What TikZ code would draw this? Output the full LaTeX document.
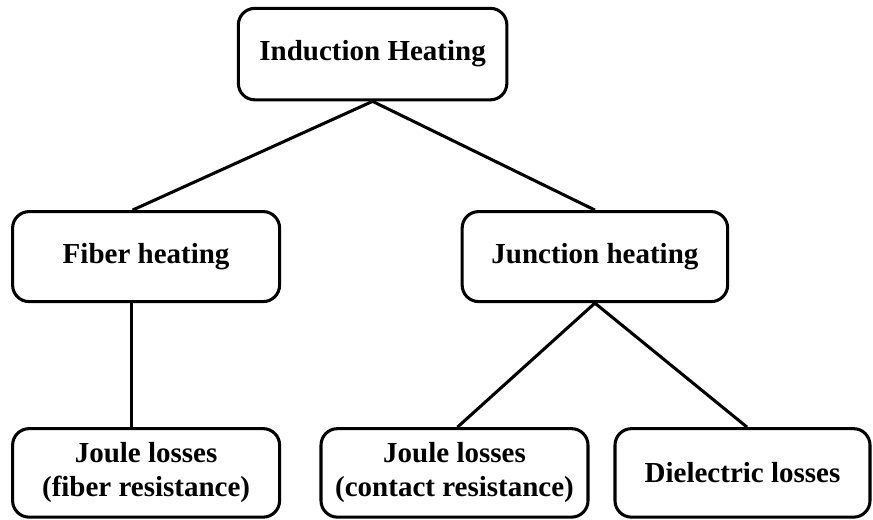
\documentclass[tikz,border=0pt]{standalone}
\usepackage{fontspec}
\setmainfont{Liberation Serif}
\usepackage{tikz}
\usetikzlibrary{positioning}

\begin{document}
\begin{tikzpicture}[
  box/.style={draw, line width=2.9pt, rounded corners=0.55cm, fill=white,
    align=center, inner sep=0pt, font=\fontsize{27.5}{32}\selectfont\bfseries},
  link/.style={line width=2.9pt}
]

% Canvas
\useasboundingbox (0,0) rectangle (29.1,17.333);

% Root
\node[box, minimum width=8.95cm, minimum height=3.05cm] (root) at (12.42,15.53) {Induction Heating};

% Heating types
\node[box, minimum width=8.9cm, minimum height=3.0cm] (fiber) at (4.87,8.78) {Fiber heating};
\node[box, minimum width=8.85cm, minimum height=3.0cm] (junction) at (19.83,8.78) {Junction heating};

% Loss mechanisms
\node[box, minimum width=8.9cm, minimum height=2.95cm] (jfiber) at (4.87,1.57) {Joule losses\\(fiber resistance)};
\node[box, minimum width=8.9cm, minimum height=2.95cm] (jcontact) at (15.15,1.57) {Joule losses\\(contact resistance)};
\node[box, minimum width=8.5cm, minimum height=2.95cm] (diel) at (24.75,1.57) {Dielectric losses};

% Connections
\draw[link] (root.south) -- ([xshift=-0.45cm]fiber.north);
\draw[link] (root.south) -- (junction.north);
\draw[link] ([xshift=-0.5cm]fiber.south) -- ([xshift=-0.5cm]jfiber.north);
\draw[link] (junction.south) -- ([xshift=0.1cm]jcontact.north);
\draw[link] (junction.south) -- ([xshift=0.15cm]diel.north);

\end{tikzpicture}
\end{document}
